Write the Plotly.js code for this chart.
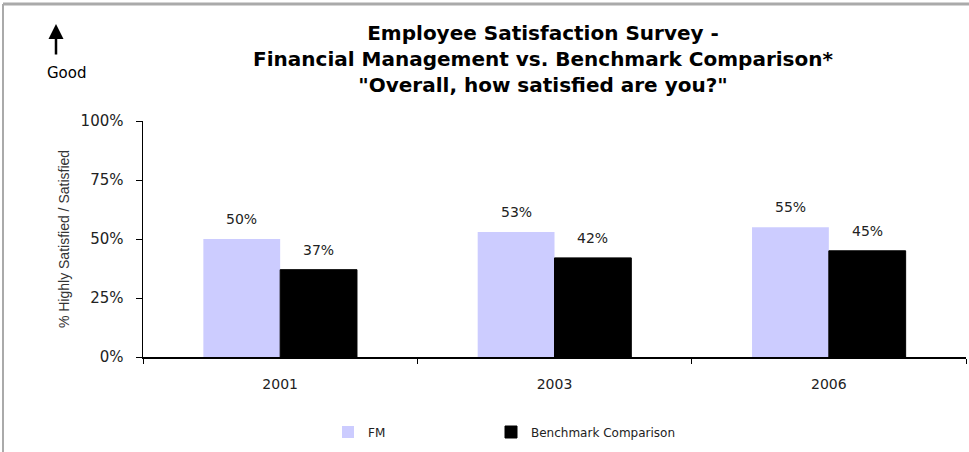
<!DOCTYPE html>
<html>
<head>
<meta charset="utf-8">
<script src="https://cdn.plot.ly/plotly-3.0.1.min.js"></script>
<style>html,body{margin:0;padding:0;background:#fff;}#chart{width:969px;height:452px;}</style>
</head>
<body>
<div id="chart"></div>
<script>
const years = ['2001', '2003', '2006'];
const fmValues = [50, 53, 55];
const benchmarkValues = [37, 42, 45];
const seriesNames = ['FM', 'Benchmark Comparison'];
const yTickVals = [0, 25, 50, 75, 100];

const FONT = 'DejaVu Sans, Liberation Sans, Arial, sans-serif';
const W = 969, H = 452;
const L = 143, R = 3, T = 121, B = 95;
const pw = W - L - R, ph = H - T - B;
const px = x => (x - L) / pw;
const py = y => (H - B - y) / ph;

const BAR_GAP = 0.44;
const halfBar = pw / years.length * (1 - BAR_GAP) / 4;

const traces = [
  {
    type: 'bar', x: years, y: fmValues, name: seriesNames[0], legend: 'legend',
    marker: {color: '#ccccff', line: {color: '#ccccff', width: 0}},
    hoverinfo: 'skip'
  },
  {
    type: 'bar', x: years, y: benchmarkValues, name: seriesNames[1], legend: 'legend2',
    marker: {color: '#000000', line: {color: '#000000', width: 1}},
    hoverinfo: 'skip'
  }
];

const labelFont = {family: FONT, size: 14, color: '#222'};
const valueLabels = [];
years.forEach((yr, i) => {
  valueLabels.push({xref: 'x', yref: 'y', x: i, y: fmValues[i], text: fmValues[i] + '%',
    xshift: -halfBar, yshift: 10, yanchor: 'bottom', showarrow: false, font: labelFont});
  valueLabels.push({xref: 'x', yref: 'y', x: i, y: benchmarkValues[i], text: benchmarkValues[i] + '%',
    xshift: halfBar, yshift: 10, yanchor: 'bottom', showarrow: false, font: labelFont});
});

const legendCommon = {
  orientation: 'h', xref: 'paper', xanchor: 'left',
  yref: 'paper', y: py(432), yanchor: 'middle',
  font: {family: FONT, size: 12, color: '#222'},
  itemwidth: 30, bgcolor: 'rgba(0,0,0,0)'
};

const layout = {
  width: W, height: H,
  margin: {l: L, r: R, t: T, b: B, pad: 0},
  paper_bgcolor: '#ffffff', plot_bgcolor: '#ffffff',
  font: {family: FONT, size: 12, color: '#222'},
  barmode: 'group', bargap: BAR_GAP, bargroupgap: 0,
  showlegend: true,
  title: {
    text: '<b>Employee Satisfaction Survey -<br>Financial Management vs. Benchmark Comparison*<br>"Overall, how satisfied are you?"</b>',
    font: {family: FONT, size: 20, color: '#000'},
    xref: 'container', x: 543 / W, xanchor: 'center',
    yref: 'container', y: 1 - 40 / H, yanchor: 'top'
  },
  xaxis: {
    type: 'category', range: [-0.5, 2.5], showgrid: false, zeroline: false,
    showline: true, linecolor: '#000', linewidth: 1.5,
    ticks: 'outside', tickson: 'boundaries', ticklen: 5, tickcolor: '#000', tickwidth: 1,
    tickfont: {family: FONT, size: 14, color: '#222'},
    ticklabelstandoff: 14
  },
  yaxis: {
    range: [0, 100], tickvals: yTickVals, ticktext: yTickVals.map(v => v + '%'),
    showgrid: false, zeroline: false,
    showline: true, linecolor: '#000', linewidth: 1.5,
    ticks: 'outside', ticklen: 6, tickcolor: '#000', tickwidth: 1,
    tickfont: {family: FONT, size: 15, color: '#222'},
    ticklabelstandoff: 9,
    title: {text: '% Highly Satisfied / Satisfied', font: {family: 'Liberation Sans, Arial, sans-serif', size: 14, color: '#333'}, standoff: 7}
  },
  legend: Object.assign({}, legendCommon, {x: px(328)}),
  legend2: Object.assign({}, legendCommon, {x: px(491)}),
  annotations: [
    {text: 'Good', xref: 'paper', yref: 'paper', x: px(67), y: py(73),
     xanchor: 'center', yanchor: 'middle', showarrow: false,
     font: {family: FONT, size: 15, color: '#000'}},
    {text: '', xref: 'paper', yref: 'paper', x: px(56), y: py(24),
     ax: 0, ay: 32, showarrow: true, arrowhead: 2, arrowsize: 1.2, arrowwidth: 2.5, arrowcolor: '#000'}
  ].concat(valueLabels),
  shapes: [
    {type: 'line', xref: 'paper', yref: 'paper', x0: px(3), x1: px(969), y0: py(4), y1: py(4),
     line: {color: '#aaaaaa', width: 3}},
    {type: 'line', xref: 'paper', yref: 'paper', x0: px(3), x1: px(3), y0: py(4), y1: py(452),
     line: {color: '#aaaaaa', width: 2}}
  ]
};

Plotly.newPlot('chart', traces, layout, {displayModeBar: false, staticPlot: true});
</script>
</body>
</html>
